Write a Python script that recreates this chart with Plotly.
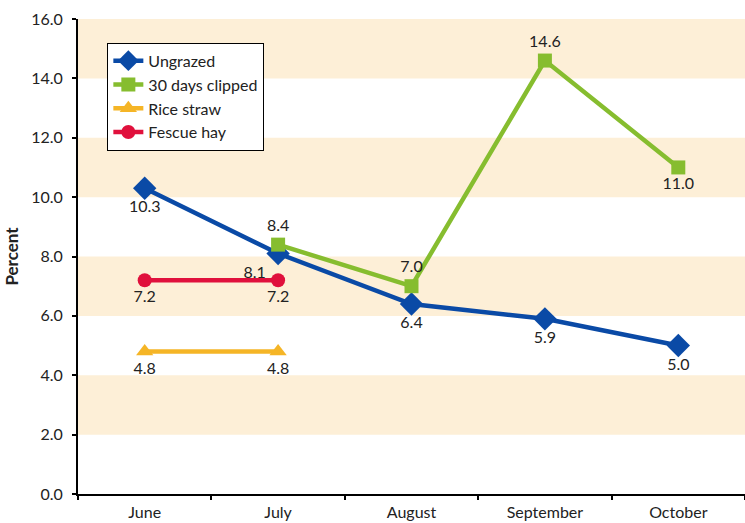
import plotly.graph_objects as go

months = ["June", "July", "August", "September", "October"]

ungrazed = [10.3, 8.1, 6.4, 5.9, 5.0]
clipped = [None, 8.4, 7.0, 14.6, 11.0]
rice_straw = [4.8, 4.8, None, None, None]
fescue_hay = [7.2, 7.2, None, None, None]

ungrazed_pos = ["bottom center", "bottom left", "bottom center", "bottom center", "bottom center"]
clipped_pos = ["top center", "top center", "top center", "top center", "bottom center"]

band_starts = [2, 6, 10, 14]
y_ticks = [0, 2, 4, 6, 8, 10, 12, 14, 16]

FONT = "Lato"
FS = 16

fig = go.Figure()


def lbl(vals):
    return ["" if v is None else f"{v:.1f}" for v in vals]


fig.add_trace(go.Scatter(
    x=months, y=ungrazed, name="Ungrazed", mode="lines+markers+text",
    line=dict(color="#0a4aa6", width=4.5),
    marker=dict(symbol="diamond", size=18, color="#0a4aa6"),
    text=lbl(ungrazed), textposition=ungrazed_pos,
    textfont=dict(size=FS, color="#222222"),
))
fig.add_trace(go.Scatter(
    x=months, y=clipped, name="30 days clipped", mode="lines+markers+text",
    line=dict(color="#86bd2f", width=4.5),
    marker=dict(symbol="square", size=14, color="#86bd2f"),
    text=lbl(clipped), textposition=clipped_pos,
    textfont=dict(size=FS, color="#222222"),
))
fig.add_trace(go.Scatter(
    x=months, y=rice_straw, name="Rice straw", mode="lines+markers+text",
    line=dict(color="#f5b526", width=4.5),
    marker=dict(symbol="triangle-up", size=15, color="#f5b526"),
    text=lbl(rice_straw), textposition="bottom center",
    textfont=dict(size=FS, color="#222222"),
))
fig.add_trace(go.Scatter(
    x=months, y=fescue_hay, name="Fescue hay", mode="lines+markers+text",
    line=dict(color="#e0103c", width=4.5),
    marker=dict(symbol="circle", size=14, color="#e0103c"),
    text=lbl(fescue_hay), textposition="bottom center",
    textfont=dict(size=FS, color="#222222"),
))

for b in band_starts:
    fig.add_shape(type="rect", xref="paper", yref="y", x0=0, x1=1, y0=b, y1=b + 2,
                  fillcolor="#fdefd7", line=dict(width=0), layer="below")

fig.update_layout(
    width=745, height=523,
    margin=dict(l=78, r=0, t=19, b=29),
    paper_bgcolor="white", plot_bgcolor="white",
    font=dict(family=FONT, size=FS, color="#222222"),
    showlegend=True,
    legend=dict(
        x=0.044, y=0.95, xanchor="left", yanchor="top",
        bgcolor="white", bordercolor="black", borderwidth=1,
        font=dict(size=FS, family=FONT), tracegroupgap=0,
    ),
    xaxis=dict(
        range=[-0.5, 4.5], showgrid=False, showline=True, linecolor="black", linewidth=2,
        ticks="outside", tickson="boundaries", ticklen=4, tickwidth=2, tickcolor="black",
        tickfont=dict(size=FS), zeroline=False, ticklabelstandoff=3,
    ),
    yaxis=dict(
        range=[0, 16], tickvals=y_ticks, ticktext=[f"{v:.1f}" for v in y_ticks],
        showgrid=False, showline=True, linecolor="black", linewidth=2,
        ticks="outside", ticklen=4, tickwidth=2, tickcolor="black",
        tickfont=dict(size=FS), zeroline=False, ticklabelstandoff=6,
        title=dict(text="<b>Percent</b>", font=dict(size=17), standoff=8),
    ),
)

fig.write_html("out.html", config={"displayModeBar": False},
               post_script="document.body.style.margin='0';")
